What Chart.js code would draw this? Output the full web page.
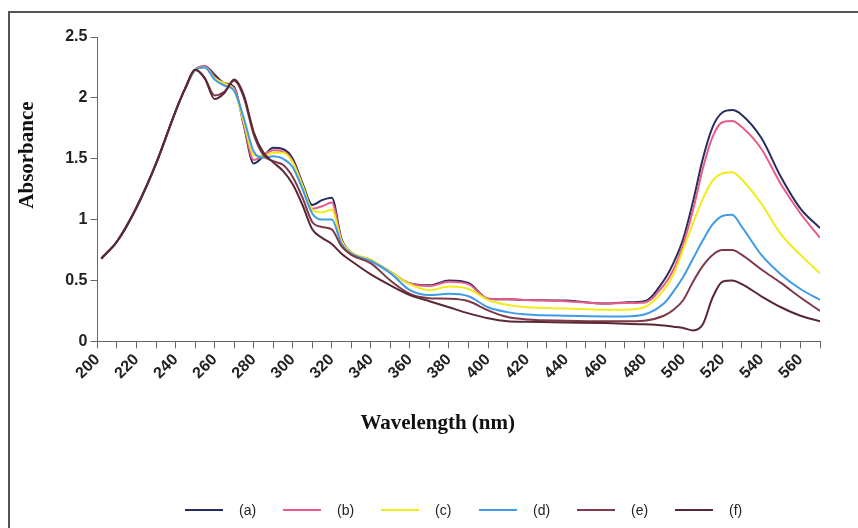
<!DOCTYPE html>
<html>
<head>
<meta charset="utf-8">
<script src="https://cdn.jsdelivr.net/npm/chart.js@4/dist/chart.umd.min.js"></script>
<style>
  html, body { margin: 0; padding: 0; background: #fff; }
  #frame {
    position: absolute; left: 8px; top: 11px; right: 0; bottom: 0;
    border-left: 2px solid #555; border-top: 2px solid #555;
  }
  #wrap { position: absolute; left: 0; top: 0; width: 858px; height: 528px; }
  #legend {
    position: absolute; left: 185px; top: 500px; height: 20px;
    display: flex; align-items: center;
    font: 14px "Liberation Sans", Arial, sans-serif; color: #222;
  }
  #legend .item { display: flex; align-items: center; width: 98px; }
  #legend .line { width: 38px; height: 2px; margin-right: 16px; }
</style>
</head>
<body>
<div id="frame"></div>
<div id="wrap"><canvas id="spectra"></canvas></div>
<div id="legend"></div>
<script>
// wavelength grid (nm)
const wavelengths = [202, 210, 220, 230, 240, 245, 250, 255, 260, 265, 270, 275, 280, 285, 290, 295, 300,
  305, 310, 315, 320, 325, 330, 340, 350, 360, 370, 380, 390, 400, 410, 420, 440, 460, 470, 480,
  490, 495, 500, 505, 510, 515, 520, 525, 530, 540, 550, 560, 570];

// absorbance
const rise = [0.68, 0.82, 1.10, 1.46, 1.89, 2.08, 2.23];
const seriesA = rise.concat([2.26, 2.19, 2.12, 2.09, 1.77, 1.46, 1.52, 1.59, 1.58, 1.50,
  1.30, 1.12, 1.16, 1.18, 0.84, 0.73, 0.665, 0.57, 0.475, 0.46,
  0.50, 0.48, 0.35, 0.345, 0.34, 0.335, 0.31, 0.32, 0.33, 0.50,
  0.645, 0.845, 1.15, 1.50, 1.76, 1.88, 1.90, 1.86, 1.67, 1.35,
  1.09, 0.93]);
const seriesB = rise.concat([2.26, 2.17, 2.11, 2.08, 1.78, 1.49, 1.53, 1.57, 1.56, 1.48,
  1.28, 1.09, 1.11, 1.14, 0.83, 0.73, 0.67, 0.57, 0.475, 0.455,
  0.49, 0.47, 0.35, 0.345, 0.34, 0.33, 0.31, 0.315, 0.32, 0.46,
  0.59, 0.80, 1.08, 1.42, 1.68, 1.80, 1.81, 1.76, 1.58, 1.29,
  1.05, 0.85]);
const seriesC = rise.concat([2.25, 2.16, 2.12, 2.06, 1.80, 1.53, 1.52, 1.55, 1.55, 1.47,
  1.28, 1.08, 1.06, 1.08, 0.82, 0.73, 0.67, 0.57, 0.47, 0.42,
  0.45, 0.43, 0.34, 0.30, 0.28, 0.27, 0.26, 0.26, 0.28, 0.42,
  0.55, 0.76, 0.97, 1.17, 1.32, 1.38, 1.39, 1.33, 1.13, 0.88,
  0.71, 0.56]);
const seriesD = rise.concat([2.25, 2.15, 2.10, 2.06, 1.83, 1.56, 1.51, 1.52, 1.50, 1.43,
  1.25, 1.05, 1.00, 1.00, 0.80, 0.72, 0.66, 0.56, 0.42, 0.38,
  0.39, 0.37, 0.28, 0.24, 0.22, 0.21, 0.205, 0.205, 0.22, 0.31,
  0.41, 0.53, 0.68, 0.83, 0.96, 1.03, 1.04, 0.94, 0.71, 0.55,
  0.43, 0.34]);
const seriesE = rise.concat([2.16, 2.02, 2.05, 2.14, 2.00, 1.70, 1.53, 1.48, 1.45, 1.35,
  1.18, 0.98, 0.94, 0.92, 0.78, 0.71, 0.64, 0.50, 0.39, 0.355,
  0.35, 0.33, 0.255, 0.20, 0.18, 0.17, 0.165, 0.165, 0.17, 0.21,
  0.26, 0.34, 0.49, 0.62, 0.71, 0.75, 0.75, 0.71, 0.59, 0.48,
  0.36, 0.25]);
const seriesF = rise.concat([2.16, 1.99, 2.04, 2.15, 2.02, 1.72, 1.55, 1.47, 1.40, 1.29,
  1.12, 0.92, 0.85, 0.80, 0.72, 0.66, 0.55, 0.46, 0.38, 0.33,
  0.28, 0.23, 0.19, 0.165, 0.16, 0.155, 0.15, 0.145, 0.14, 0.13,
  0.12, 0.11, 0.09, 0.14, 0.36, 0.49, 0.50, 0.47, 0.37, 0.28,
  0.21, 0.165]);

const seriesNames = ["(a)", "(b)", "(c)", "(d)", "(e)", "(f)"];
const colors = ["#262d5c", "#ea5c86", "#f0ec1a", "#3f9be6", "#7e3848", "#5a2832"];
const yTicks = [0, 0.5, 1, 1.5, 2, 2.5];
const xLabelStep = 20;

const allSeries = [seriesA, seriesB, seriesC, seriesD, seriesE, seriesF];

const datasets = allSeries.map((vals, i) => ({
  label: seriesNames[i],
  data: wavelengths.map((w, j) => ({ x: w, y: vals[j] })),
  borderColor: colors[i],
  backgroundColor: colors[i],
  borderWidth: 2,
  pointRadius: 0,
  cubicInterpolationMode: "monotone",
  fill: false
})).reverse();

const tickFont = { family: "'Liberation Sans', Arial, sans-serif", size: 16, weight: "bold" };
const titleFont = { family: "'Liberation Serif', 'Times New Roman', serif", size: 21, weight: "bold" };

const chart = new Chart(document.getElementById("spectra"), {
  type: "line",
  data: { datasets },
  options: {
    responsive: true,
    maintainAspectRatio: false,
    animation: false,
    layout: { padding: { left: 13, top: 37, right: 38, bottom: 92 } },
    plugins: {
      legend: { display: false },
      tooltip: { enabled: false }
    },
    scales: {
      x: {
        type: "linear",
        min: 200,
        max: 570,
        border: { color: "#666", width: 1 },
        grid: { drawOnChartArea: false, tickLength: 7, color: "#666" },
        ticks: {
          stepSize: 10,
          autoSkip: false,
          minRotation: 45,
          maxRotation: 45,
          padding: 2,
          color: "#222",
          font: tickFont,
          callback: v => (v % xLabelStep === 0 && v < 570 ? v : "")
        },
        title: {
          display: true,
          text: "Wavelength (nm)        ",
          color: "#111",
          font: titleFont,
          padding: { top: 26, bottom: 0 }
        }
      },
      y: {
        min: 0,
        max: 2.5,
        border: { color: "#666", width: 1 },
        grid: { drawOnChartArea: false, tickLength: 7, color: "#666" },
        afterBuildTicks: axis => { axis.ticks = yTicks.map(v => ({ value: v })); },
        ticks: { padding: 3, color: "#222", font: tickFont, callback: v => String(v) },
        title: {
          display: true,
          text: "             Absorbance",
          color: "#111",
          font: titleFont,
          padding: { top: 2, bottom: 22 }
        }
      }
    }
  }
});

// legend built from the chart's datasets, in series order
const legendBox = document.getElementById("legend");
chart.data.datasets.slice().reverse().forEach(ds => {
  const item = document.createElement("div");
  item.className = "item";
  const line = document.createElement("span");
  line.className = "line";
  line.style.background = ds.borderColor;
  const text = document.createElement("span");
  text.textContent = ds.label;
  item.appendChild(line);
  item.appendChild(text);
  legendBox.appendChild(item);
});
</script>
</body>
</html>
